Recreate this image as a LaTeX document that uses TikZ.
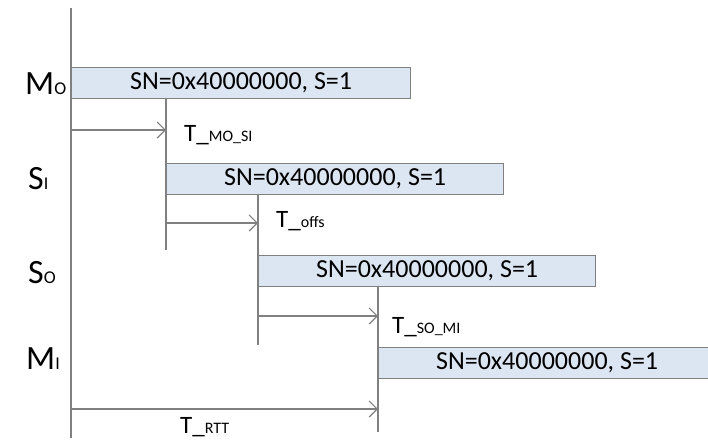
\documentclass[tikz,border=0pt]{standalone}
\usepackage{fontspec}
\setmainfont{Carlito}
\usepackage{xcolor}
\usepackage{tikz}
\usetikzlibrary{arrows.meta, calc}
\definecolor{linegray}{HTML}{808080}
\definecolor{barblue}{HTML}{DCE6F2}
\newcommand{\sidesub}[1]{{\fontsize{18}{20}\selectfont #1}}
\newcommand{\tsub}[1]{{\fontsize{16}{18}\selectfont #1}}
\tikzset{
    bar/.style = {draw=linegray, fill=barblue, line width=1.2pt, anchor=north west,
        minimum width=337pt, minimum height=31pt, inner sep=0pt,
        font=\fontsize{26}{30}\selectfont},
    tline/.style = {draw=linegray, line width=1.2pt},
    tarrow/.style = {tline, -{Straight Barb[length=8pt, width=16pt]}},
    side/.style = {anchor=base west, inner sep=0pt, font=\fontsize{34}{38}\selectfont},
    tlabel/.style = {anchor=base west, inner sep=0pt, font=\fontsize{25}{28}\selectfont},
}

\begin{document}
\begin{tikzpicture}[x=1pt, y=-1pt]
\useasboundingbox (0,0) rectangle (708,440);
\clip (0,0) rectangle (708,440);

% time axis
\coordinate (top) at (71,8);
\coordinate (bot) at (71,438);
\draw[tline] (top) -- (bot);

% frames
\node[bar, minimum width=339pt] (mo) at (71,67) {SN=0x40000000, S=1};
\node[bar] (si) at (166,163) {SN=0x40000000, S=1};
\node[bar] (so) at (258,255) {SN=0x40000000, S=1};
\node[bar] (mi) at (378,347) {SN=0x40000000, S=1};

\node[side] (lmo) at (25,94) {M\sidesub{O}};
\node[side] (lsi) at (28,189) {S\sidesub{I}};
\node[side] (lso) at (28,283) {S\sidesub{O}};
\node[side] (lmi) at (26,369) {M\sidesub{I}};

% drop lines
\coordinate (siend) at (166,250);
\coordinate (soend) at (258,345);
\coordinate (miend) at (378,432);
\draw[tline] (mo.south -| si.north west) -- (siend);
\draw[tline] (si.south -| so.north west) -- (soend);
\draw[tline] (so.south -| mi.north west) -- (miend);

% delays
\coordinate (a1) at (71,130);
\draw[tarrow] (a1) -- (a1 -| si.west);
\node[tlabel] (tmosi) at (184,141) {T\_\tsub{MO\_SI}};

\coordinate (a2) at (166,223);
\draw[tarrow] (a2) -- (a2 -| so.west);
\node[tlabel] (toffs) at (276,227) {T\_\tsub{offs}};

\coordinate (a3) at (258,316);
\draw[tarrow] (a3) -- (a3 -| mi.west);
\node[tlabel] (tsomi) at (392,333) {T\_\tsub{SO\_MI}};

\coordinate (a4) at (71,409);
\draw[tarrow] (a4) -- (a4 -| mi.west);
\node[tlabel] (trtt) at (180,433) {T\_\tsub{RTT}};
\end{tikzpicture}
\end{document}
